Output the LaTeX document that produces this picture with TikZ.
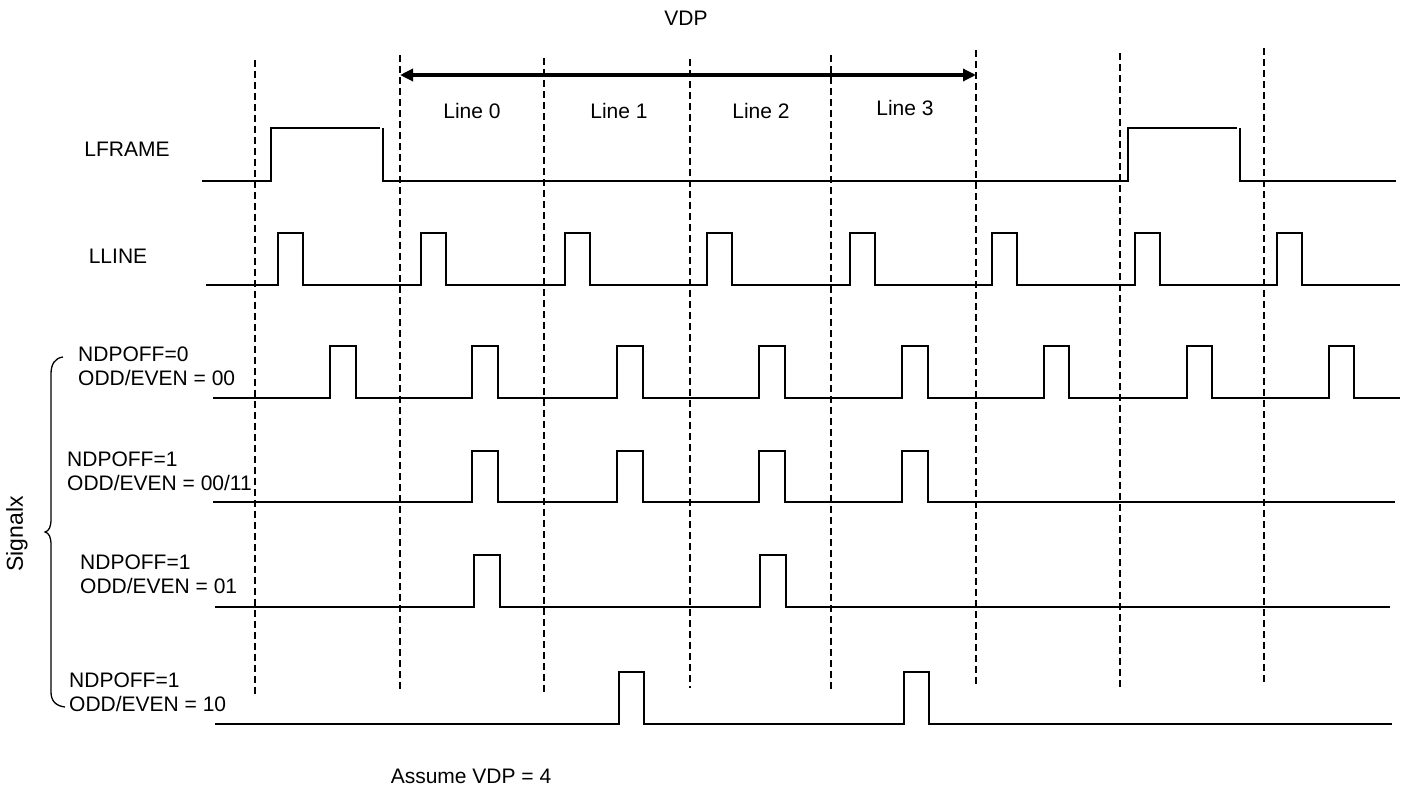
\documentclass[tikz,border=0pt]{standalone}
\usepackage{fontspec}
\setmainfont{Liberation Sans}
\usetikzlibrary{arrows.meta}
\begin{document}
\begin{tikzpicture}[x=1pt,y=-1pt,
  sig/.style={line width=1.4pt, line join=miter},
  gridline/.style={line width=2.5pt, dash pattern=on 7pt off 4pt},
  lbl/.style={inner sep=0pt, font=\fontsize{21}{24}\selectfont},
  multi/.style={lbl, anchor=north west, align=left},
  vdparrow/.style={line width=3.2pt, {Triangle[length=13pt,width=12pt]}-{Triangle[length=13pt,width=12pt]}},
  bracestyle/.style={line width=1.3pt}]
\useasboundingbox (0,0) rectangle (1404,787);

% dashed time markers
\foreach \x/\t/\b [count=\i] in {255/60/695, 400/55/690, 544/58/693, 690/59/688, 831/55/690, 976/50/685, 1120/53/688, 1264/48/683} {
  \coordinate (t\i) at (\x,\t);
  \coordinate (b\i) at (\x,\b);
  \draw[gridline] (t\i) -- (b\i);
}

% VDP arrow
\coordinate (al) at (400,75);
\coordinate (ar) at (976,75);
\draw[vdparrow] (al) -- (ar);

% labels
\node[lbl] (vdp) at (686,18) {VDP};
\node[lbl] (line0) at (472,111) {Line 0};
\node[lbl] (line1) at (619,111) {Line 1};
\node[lbl] (line2) at (761,111) {Line 2};
\node[lbl] (line3) at (905,108) {Line 3};
\node[lbl] (lframe) at (127,149) {LFRAME};
\node[lbl] (lline) at (118,256) {LLINE};
\node[multi] (sa) at (78,347) {NDPOFF=0\\ODD/EVEN = 00};
\node[multi] (sb) at (67,452) {NDPOFF=1\\ODD/EVEN = 00/11};
\node[multi] (sc) at (80,555) {NDPOFF=1\\ODD/EVEN = 01};
\node[multi] (sd) at (69,673) {NDPOFF=1\\ODD/EVEN = 10};
\node[lbl, font=\fontsize{23}{26}\selectfont, rotate=90] (sx) at (17,534) {Signalx};
\node[lbl] (assume) at (471,776) {Assume VDP = 4};

% brace
\draw[bracestyle] (63,357) .. controls (55,358) and (51,364) .. (51,374) -- (51,519)
  .. controls (51,527) and (49,531) .. (45,532)
  .. controls (49,533) and (51,537) .. (51,545) -- (51,692)
  .. controls (51,701) and (56,706) .. (65,707);

% LFRAME
\draw[sig] (202,181) -- (271,181) -- (271,128) -- (380,128);
\draw[sig] (383,128) -- (383,181) -- (1128,181) -- (1128,128) -- (1237,128);
\draw[sig] (1240,128) -- (1240,181) -- (1396,181);
\draw[sig, line width=2.3pt] (1057,181) -- (1113,181);

% LLINE
\draw[sig] (206,285) foreach \a/\b in {278/303, 421/446, 565/590, 707/732, 850/875, 992/1017, 1135/1160, 1277/1302}
  { -- (\a,285) -- (\a,233) -- (\b,233) -- (\b,285) } -- (1400,285);

% NDPOFF=0, 00
\draw[sig] (213,398) foreach \a/\b in {330/356, 472/498, 617/643, 759/785, 902/928, 1044/1069, 1187/1212, 1329/1354}
  { -- (\a,398) -- (\a,346) -- (\b,346) -- (\b,398) } -- (1400,398);

% NDPOFF=1, 00/11
\draw[sig] (213,502) foreach \a/\b in {472/498, 617/643, 759/785, 902/928}
  { -- (\a,502) -- (\a,451) -- (\b,451) -- (\b,502) } -- (1395,502);

% NDPOFF=1, 01
\draw[sig] (215,607) foreach \a/\b in {474/500, 760/786}
  { -- (\a,607) -- (\a,555) -- (\b,555) -- (\b,607) } -- (1390,607);

% NDPOFF=1, 10
\draw[sig] (215,724) foreach \a/\b in {619/644, 904/929}
  { -- (\a,724) -- (\a,672) -- (\b,672) -- (\b,724) } -- (1392,724);
\end{tikzpicture}
\end{document}
